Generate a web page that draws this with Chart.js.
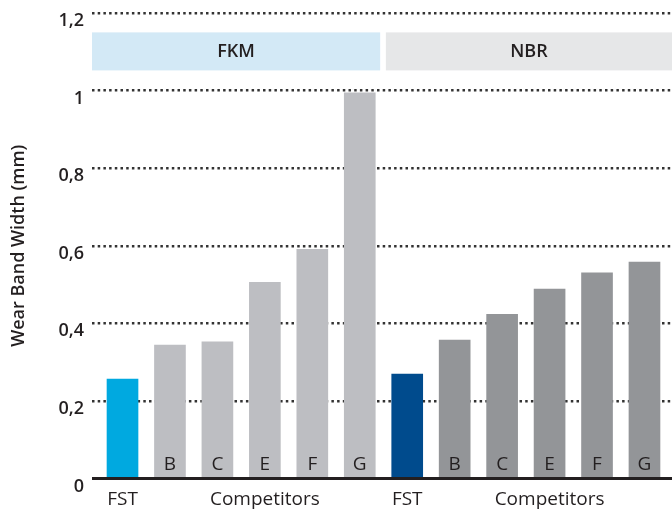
<!DOCTYPE html>
<html>
<head>
<meta charset="utf-8">
<script src="https://cdn.jsdelivr.net/npm/chart.js@4/dist/chart.umd.min.js"></script>
<style>
  html, body { margin: 0; padding: 0; background: #fff; }
  #wrap { width: 672px; height: 512px; }
</style>
</head>
<body>
<div id="wrap"><canvas id="myChart"></canvas></div>
<script>
// data
const groups = ['FKM', 'NBR'];
const xLabels = ['FST', '', '', 'Competitors', '', '', 'FST', '', '', 'Competitors', '', ''];
const barLetters = ['', 'B', 'C', 'E', 'F', 'G', '', 'B', 'C', 'E', 'F', 'G'];
const fkmValues = [0.256, 0.344, 0.352, 0.506, 0.591, 0.994];
const nbrValues = [0.269, 0.357, 0.423, 0.488, 0.530, 0.558];
const yTickLabels = ['0', '0,2', '0,4', '0,6', '0,8', '1', '1,2'];

const ink = '#231f20';
const font = "'Open Sans', 'Noto Sans', sans-serif";

const values = fkmValues.concat(nbrValues);
const points = values.map((v, i) => ({ x: i, y: v }));
const colors = values.map((v, i) => {
    if (i === 0) return '#00a9e0';
    if (i < 6) return '#bdbec2';
    if (i === 6) return '#004b8d';
    return '#939598';
});

// header bands + letters in the bars + black zero line
const decorations = {
    id: 'decorations',
    beforeDatasetsDraw(chart, args, opts) {
        const { ctx, scales: { x, y } } = chart;
        const top = y.getPixelForValue(opts.bandTop);
        const bottom = y.getPixelForValue(opts.bandBottom);
        ctx.save();
        groups.forEach((g, i) => {
            const x0 = x.getPixelForValue(opts.bandSpans[i][0]);
            const x1 = x.getPixelForValue(opts.bandSpans[i][1]);
            ctx.fillStyle = opts.bandColors[i];
            ctx.fillRect(x0, top, x1 - x0, bottom - top);
            ctx.fillStyle = ink;
            ctx.font = '600 18px ' + font;
            ctx.textAlign = 'center';
            ctx.textBaseline = 'middle';
            ctx.fillText(g, (x0 + x1) / 2, (top + bottom) / 2);
        });
        ctx.restore();
    },
    afterDatasetsDraw(chart) {
        const { ctx, chartArea, scales: { y } } = chart;
        const meta = chart.getDatasetMeta(0);
        ctx.save();
        ctx.fillStyle = ink;
        ctx.font = '19px ' + font;
        ctx.textAlign = 'center';
        ctx.textBaseline = 'middle';
        meta.data.forEach((bar, i) => {
            ctx.fillText(barLetters[i], bar.x, bar.base - 13);
        });
        const y0 = y.getPixelForValue(0);
        ctx.strokeStyle = ink;
        ctx.lineWidth = 3;
        ctx.beginPath();
        ctx.moveTo(chartArea.left, y0);
        ctx.lineTo(chartArea.right, y0);
        ctx.stroke();
        ctx.restore();
    }
};

new Chart(document.getElementById('myChart'), {
    type: 'bar',
    data: {
        datasets: [{
            data: points,
            backgroundColor: colors,
            barThickness: 31
        }]
    },
    plugins: [decorations],
    options: {
        responsive: true,
        maintainAspectRatio: false,
        animation: false,
        layout: { padding: { top: 13, right: 0, bottom: 0, left: 0 } },
        plugins: {
            legend: { display: false },
            tooltip: { enabled: false },
            decorations: {
                bandTop: 1.15,
                bandBottom: 1.052,
                bandSpans: [[-0.643, 5.43], [5.55, 11.58]],
                bandColors: ['#d3e9f6', '#e6e7e8']
            }
        },
        scales: {
            x: {
                type: 'linear',
                offset: false,
                min: -0.643,
                max: 11.58,
                grid: { display: false, drawTicks: false },
                border: { display: false },
                afterBuildTicks: (scale) => {
                    scale.ticks = xLabels.map((l, i) => ({ value: i }));
                },
                afterFit: (scale) => { scale.height = 33.5; },
                ticks: {
                    autoSkip: false,
                    maxRotation: 0,
                    padding: 10,
                    color: ink,
                    font: { family: font, size: 19 },
                    callback: (v) => xLabels[v] || ''
                }
            },
            y: {
                min: 0,
                max: 1.2,
                afterFit: (scale) => {
                    scale.width = 92;
                    scale.paddingTop = 0;
                    scale.paddingBottom = 0;
                },
                grid: {
                    drawTicks: false,
                    lineWidth: 2.5,
                    color: (c) => c.tick && c.tick.value === 0 ? 'rgba(0,0,0,0)' : '#333'
                },
                border: { display: false, dash: [2.5, 3.2] },
                ticks: {
                    stepSize: 0.2,
                    padding: 8,
                    labelOffset: 8,
                    color: ink,
                    font: { family: font, size: 18, weight: '600' },
                    callback: (v) => yTickLabels[Math.round(v / 0.2)]
                },
                title: {
                    display: true,
                    text: 'Wear Band Width (mm)',
                    color: ink,
                    padding: { top: 8, bottom: 0 },
                    font: { family: font, size: 18, weight: '600' }
                }
            }
        }
    }
});
</script>
</body>
</html>
